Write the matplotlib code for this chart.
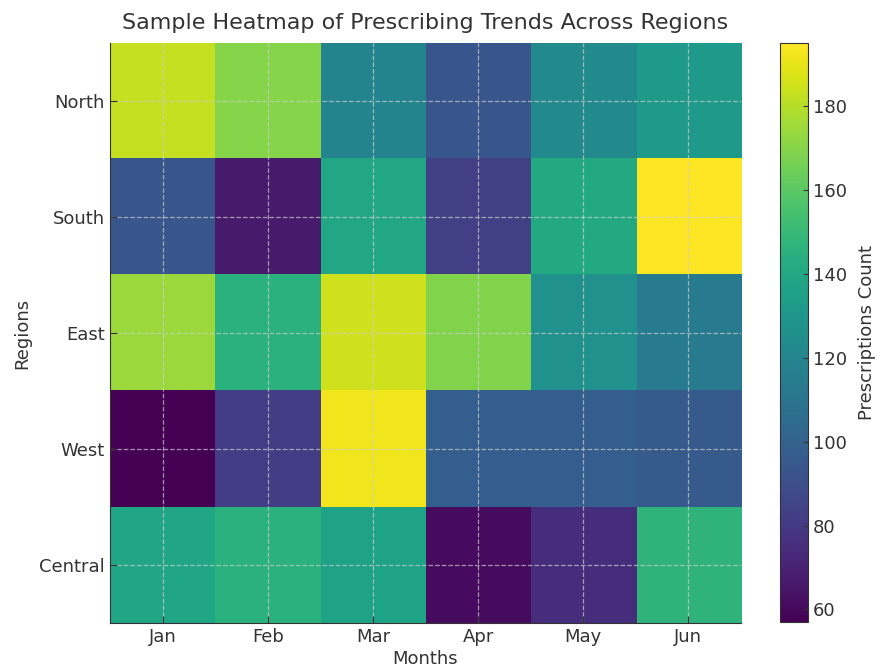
import numpy as np
import matplotlib
matplotlib.use('Agg')
import matplotlib.pyplot as plt

regions = ['North', 'South', 'East', 'West', 'Central']
months = ['Jan', 'Feb', 'Mar', 'Apr', 'May', 'Jun']

north = [183, 170, 119, 94, 123, 131]
south = [94, 67, 140, 83, 141, 195]
east = [174, 145, 185, 169, 127, 114]
west = [57, 82, 192, 98, 98, 96]
central = [138, 145, 137, 61, 75, 147]

data = np.array([north, south, east, west, central])

txt = '#333333'
plt.rcParams['text.color'] = txt
plt.rcParams['axes.labelcolor'] = txt
plt.rcParams['xtick.color'] = txt
plt.rcParams['ytick.color'] = txt

fig = plt.figure(figsize=(8.77, 6.70), dpi=100)
ax = fig.add_axes([0.1254, 0.0701, 0.7195, 0.8657])
cax = fig.add_axes([0.889, 0.0716, 0.032, 0.8642])

im = ax.imshow(data, cmap='viridis', aspect='auto')

ax.set_xticks(range(len(months)))
ax.set_xticklabels(months)
ax.set_yticks(range(len(regions)))
ax.set_yticklabels(regions)
ax.tick_params(direction='in', labelsize=13, length=5)
ax.grid(True, color='#d0d0d0', linestyle='--', linewidth=0.9, alpha=0.7)
ax.spines['top'].set_visible(False)
ax.spines['right'].set_visible(False)
ax.spines['left'].set_color('#333333')
ax.spines['bottom'].set_color('#333333')

ax.set_title('Sample Heatmap of Prescribing Trends Across Regions', fontsize=16, pad=10)
ax.set_xlabel('Months', fontsize=13, labelpad=3)
ax.set_ylabel('Regions', fontsize=13, labelpad=6)

cb = fig.colorbar(im, cax=cax)
cb.set_label('Prescriptions Count', fontsize=13, labelpad=8)
cb.ax.tick_params(labelsize=13, direction='in')
cb.outline.set_edgecolor('#333333')

fig.savefig('out.png', dpi=100)
